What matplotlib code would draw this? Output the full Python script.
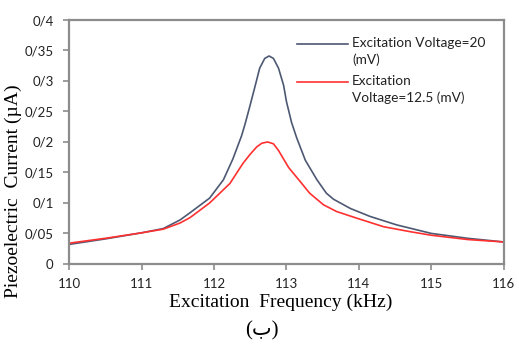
import matplotlib.pyplot as plt
from matplotlib.ticker import FixedLocator

# blue curve, 20 mV
freq_20 = [110.0, 110.5, 111.0, 111.3, 111.53, 111.67, 111.94, 112.13, 112.26, 112.38,
           112.43, 112.50, 112.57, 112.63, 112.70, 112.76, 112.82, 112.89, 112.96, 113.0,
           113.07, 113.14, 113.26, 113.42, 113.55, 113.65, 113.88, 114.15, 114.52, 115.0,
           115.5, 116.0]
curr_20 = [0.032, 0.041, 0.051, 0.058, 0.072, 0.084, 0.108, 0.138, 0.172, 0.210,
           0.230, 0.261, 0.293, 0.321, 0.337, 0.341, 0.337, 0.321, 0.293, 0.266,
           0.232, 0.207, 0.170, 0.138, 0.116, 0.106, 0.091, 0.078, 0.064, 0.050,
           0.042, 0.036]

# red curve, 12.5 mV
freq_125 = [110.0, 110.5, 111.0, 111.3, 111.53, 111.67, 111.94, 112.22, 112.4, 112.5,
            112.59, 112.66, 112.74, 112.82, 112.89, 113.03, 113.19, 113.32, 113.51, 113.69,
            113.97, 114.34, 114.7, 115.0, 115.5, 116.0]
curr_125 = [0.034, 0.042, 0.051, 0.057, 0.067, 0.076, 0.100, 0.132, 0.165, 0.180,
            0.192, 0.198, 0.200, 0.197, 0.186, 0.158, 0.135, 0.116, 0.097, 0.086,
            0.075, 0.061, 0.053, 0.047, 0.040, 0.036]

labels = ['Excitation Voltage=20\n(mV)', 'Excitation\nVoltage=12.5 (mV)']
colors = ['#4d5873', '#ff3030']

x_ticks = [110, 111, 112, 113, 114, 115, 116]
y_ticks = [0, 0.05, 0.1, 0.15, 0.2, 0.25, 0.3, 0.35, 0.4]
y_labels = ['0', '0/05', '0/1', '0/15', '0/2', '0/25', '0/3', '0/35', '0/4']

fig = plt.figure(figsize=(5.19, 3.45), dpi=100)
ax = fig.add_axes([0.133, 0.235, 0.838, 0.707])

ax.plot(freq_20, curr_20, color=colors[0], lw=1.2)
ax.plot(freq_125, curr_125, color=colors[1], lw=1.2)

ax.set_xlim(110, 116)
ax.set_ylim(0, 0.4)
ax.xaxis.set_major_locator(FixedLocator(x_ticks))
ax.set_yticks(y_ticks)
ax.set_yticklabels(y_labels)

for s in ax.spines.values():
    s.set_color('#8c8c8c')
    s.set_linewidth(1.6)
ax.tick_params(axis='both', colors='#8c8c8c', length=4, width=1.2, labelsize=9.5,
               labelcolor='#222222')
ax.tick_params(axis='x', pad=6)
ax.tick_params(axis='y', pad=7)
for lab in ax.get_xticklabels() + ax.get_yticklabels():
    lab.set_family('Lato')

ax.set_xlabel('Excitation  Frequency (kHz)', family='Liberation Serif', fontsize=14, va='top')
ax.xaxis.set_label_coords(0.487, -0.12)
ax.set_ylabel('Piezoelectric  Current (µA)', family='Liberation Serif', fontsize=14)
ax.yaxis.set_label_coords(-0.108, 0.3)

# legend drawn by hand so the line sits on the first text row
leg_y = [0.902, 0.746]
for lab, col, y in zip(labels, colors, leg_y):
    ax.plot([0.524, 0.641], [y, y], color=col, lw=1.2, transform=ax.transAxes, clip_on=False)
    ax.text(0.651, y + 0.029, lab, transform=ax.transAxes, family='Lato', fontsize=9.8,
            va='top', ha='left', linespacing=1.4, color='#222222')

fig.text(0.505, 0.04, '(ب)', family=['Liberation Serif', 'DejaVu Sans'], fontsize=15,
         ha='center', va='center')

fig.savefig('out.png', dpi=100)
